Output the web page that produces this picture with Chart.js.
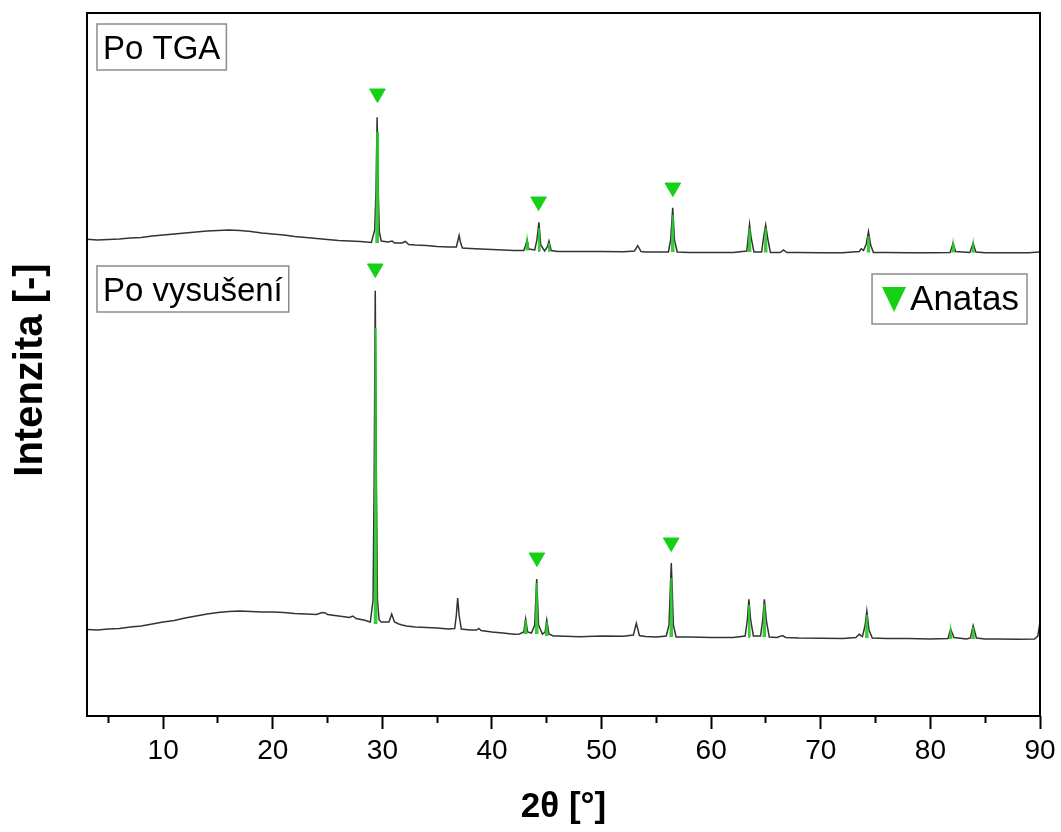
<!DOCTYPE html>
<html>
<head>
<meta charset="utf-8">
<script src="https://cdn.jsdelivr.net/npm/chart.js@4.4.1/dist/chart.umd.min.js"></script>
<style>
  html, body { margin: 0; padding: 0; background: #ffffff; }
  #wrap { width: 1061px; height: 832px; position: relative; }
</style>
</head>
<body>
<div id="wrap"><canvas id="c"></canvas></div>
<script>
// ---------------- DATA ----------------
// Bottom pattern: "Po vysušení"
const twoThetaDried = [3.05,4,5,6,7,8,9,10,11,12,13,14,15,16,17,18,19,20,21,22,23,24,24.5,24.8,25,26,27,27.3,27.6,28.3,28.9,
  29.15,29.25,29.35,29.45,29.55,29.7,29.9,30.6,30.85,31.1,31.5,31.8,32.2,33,34,35,36,36.6,36.75,36.87,37.0,37.2,38,38.6,38.8,39,
  40,41,42,42.5,42.9,43.07,43.25,43.6,43.9,44.08,44.25,44.6,44.85,45.0,45.2,45.6,46,48,50,52,52.9,53.17,53.45,54,55,55.9,56.15,
  56.36,56.55,56.8,58,60,62,63.1,63.3,63.44,63.6,63.85,64.5,64.7,64.85,65.05,65.3,66,66.5,66.8,68,70,72,73.2,73.5,73.8,74.05,
  74.2,74.4,74.7,76,78,80,81.6,81.85,82.15,83.3,83.65,83.9,84.2,85,86,88,89.5,89.8,90];
const intensityDried = [865,860,870,875,890,900,920,940,955,980,1000,1020,1035,1045,1050,1045,1040,1040,1035,1025,1020,1015,1035,1030,1015,1000,985,1000,975,960,940,
  1160,2360,4253,2360,1160,960,940,940,1020,940,920,910,900,890,885,880,870,875,1010,1180,1010,870,860,860,875,855,
  840,830,817,820,840,970,840,830,910,1370,910,820,840,960,820,800,800,793,800,797,810,927,805,795,790,800,910,
  1530,910,790,790,785,785,800,960,1167,960,800,800,960,1167,940,790,785,805,785,780,777,775,785,817,795,910,
  1050,860,780,775,775,770,775,867,785,770,780,903,780,770,770,767,770,800,940];

// Top pattern: "Po TGA" (raw values, shifted up by TGA_OFFSET for display)
const TGA_OFFSET = 3900;
const twoThetaTGA = [3.05,4,5,6,7,8,9,10,11,12,13,14,15,16,17,18,19,20,21,22,23,24,25,26,27,28,29.0,
  29.3,29.42,29.52,29.62,29.72,29.9,30.5,30.9,31.1,31.8,32.1,32.4,33,34,35,36,36.75,36.9,37.0,37.12,37.3,38,39,40,41,42,42.9,
  43.05,43.2,43.35,43.9,44.1,44.28,44.45,44.8,45.05,45.2,45.4,46,48,50,52,53.0,53.3,53.6,54,55,56.1,56.3,56.49,56.65,56.9,
  58,60,62,63.25,63.4,63.5,63.65,63.9,64.6,64.8,64.97,65.15,65.4,66.3,66.6,66.9,68,70,72,73.5,73.7,73.9,74.15,74.35,74.55,
  74.8,76,78,80,81.8,82.07,82.3,83.6,83.9,84.15,85,87,89,89.9,90];
const intensityTGA = [867,860,865,870,880,885,900,910,920,930,940,950,955,960,955,945,930,920,910,895,885,875,865,855,850,845,835,
  960,1360,2087,1360,940,850,840,850,830,830,845,815,810,805,795,790,790,860,905,840,780,775,770,765,760,755,755,
  800,860,770,760,860,1037,810,750,790,850,755,745,745,745,743,750,803,745,740,740,740,860,1183,860,740,
  735,735,735,750,910,1017,880,740,740,900,1010,880,735,735,760,735,735,733,733,745,773,755,820,943,810,
  735,735,732,732,735,827,745,735,827,740,733,733,733,740,760];

// Green anatase reference peaks (position, top, base)
const fitDriedPos  = [29.38,43.07,44.08,45.0,56.36,63.44,64.85,74.2,81.85,83.9];
const fitDriedTop  = [3880,960,1330,940,1380,1110,1120,1010,850,890];
const fitDriedBase = [920,820,820,800,790,790,790,780,770,770];
const fitTGAPos  = [29.52,43.2,44.28,45.2,56.49,63.5,64.97,74.35,82.07,83.9];
const fitTGATop  = [1940,840,980,830,1110,980,980,900,810,810];
const fitTGABase = [830,755,750,750,740,740,735,735,735,735];

// Anatase markers (▼)
const markerDriedX = [29.35,44.1,56.35];
const markerDriedY = [4475,1585,1735];
const markerTGAX = [29.55,44.25,56.5];
const markerTGAY = [2325,1245,1385];

// Axis
const xMajorTicks = [10,20,30,40,50,60,70,80,90];
const xMinorTicks = [5,15,25,35,45,55,65,75,85];
const xMin = 3.05, xMax = 90;
const yMin = 0, yMax = 7030;
const seriesLabels = ['Po TGA', 'Po vysušení'];
const legendLabel = 'Anatas';
const xTitle = '2θ [°]';
const yTitle = 'Intenzita [-] ';

// ---------------- BUILD ----------------
const FONT = "'Liberation Sans', Arial, Helvetica, sans-serif";
const GREEN = 'rgb(22,208,22)';
const GREEN_LINE = 'rgba(40,200,40,0.92)';
const GRAY = '#333333';

function pts(xs, ys, off) {
  return xs.map((x, i) => ({ x: x, y: ys[i] + (off || 0) }));
}
function fitPts(pos, top, base, off) {
  const out = [];
  pos.forEach((c, i) => {
    out.push({ x: c - 0.08, y: base[i] + off });
    out.push({ x: c, y: top[i] + off });
    out.push({ x: c + 0.08, y: base[i] + off });
    out.push({ x: c + 0.09, y: null });
  });
  return out;
}

const annotate = {
  id: 'annotate',
  afterDatasetsDraw(chart) {
    const ctx = chart.ctx;
    const a = chart.chartArea;
    ctx.save();
    // label boxes
    ctx.font = '33px ' + FONT;
    ctx.textBaseline = 'alphabetic';
    ctx.textAlign = 'left';
    const boxes = [
      { text: seriesLabels[0], x: a.left + 10, y: a.top + 11 },
      { text: seriesLabels[1], x: a.left + 10, y: a.top + 253 }
    ];
    boxes.forEach(b => {
      const w = ctx.measureText(b.text).width + 12;
      ctx.fillStyle = '#ffffff';
      ctx.fillRect(b.x, b.y, w, 46);
      ctx.strokeStyle = '#8c8c8c';
      ctx.lineWidth = 1.5;
      ctx.strokeRect(b.x, b.y, w, 46);
      ctx.fillStyle = '#000000';
      ctx.fillText(b.text, b.x + 6, b.y + 35);
    });
    // legend
    ctx.font = '35px ' + FONT;
    const tw = ctx.measureText(legendLabel).width;
    const lw = tw + 46;
    const lx = a.right - 13 - lw, ly = a.top + 261;
    ctx.fillStyle = '#ffffff';
    ctx.fillRect(lx, ly, lw, 50);
    ctx.strokeStyle = '#8c8c8c';
    ctx.lineWidth = 1.5;
    ctx.strokeRect(lx, ly, lw, 50);
    ctx.fillStyle = GREEN;
    ctx.beginPath();
    ctx.moveTo(lx + 10, ly + 13);
    ctx.lineTo(lx + 34, ly + 13);
    ctx.lineTo(lx + 22, ly + 38);
    ctx.closePath();
    ctx.fill();
    ctx.fillStyle = '#000000';
    ctx.fillText(legendLabel, lx + 38, ly + 36);
    // frame
    ctx.strokeStyle = '#000000';
    ctx.lineWidth = 2;
    ctx.strokeRect(a.left, a.top, a.right - a.left, a.bottom - a.top);
    ctx.restore();
  }
};

new Chart(document.getElementById('c'), {
  type: 'scatter',
  data: {
    datasets: [
      { label: 'Anatas ▼ Po TGA', data: pts(markerTGAX, markerTGAY, TGA_OFFSET), pointStyle: 'triangle', rotation: 180,
        pointRadius: 9, backgroundColor: GREEN, borderColor: GREEN, borderWidth: 1, showLine: false, order: 0 },
      { label: 'Anatas ▼ Po vysušení', data: pts(markerDriedX, markerDriedY, 0), pointStyle: 'triangle', rotation: 180,
        pointRadius: 9, backgroundColor: GREEN, borderColor: GREEN, borderWidth: 1, showLine: false, order: 0 },
      { label: 'Anatas fit Po TGA', data: fitPts(fitTGAPos, fitTGATop, fitTGABase, TGA_OFFSET), showLine: true, spanGaps: false,
        borderColor: GREEN_LINE, borderWidth: 2, pointRadius: 0, order: 1 },
      { label: 'Anatas fit Po vysušení', data: fitPts(fitDriedPos, fitDriedTop, fitDriedBase, 0), showLine: true, spanGaps: false,
        borderColor: GREEN_LINE, borderWidth: 2, pointRadius: 0, order: 1 },
      { label: seriesLabels[0], data: pts(twoThetaTGA, intensityTGA, TGA_OFFSET), showLine: true,
        borderColor: GRAY, borderWidth: 1.5, pointRadius: 0, order: 2 },
      { label: seriesLabels[1], data: pts(twoThetaDried, intensityDried, 0), showLine: true,
        borderColor: GRAY, borderWidth: 1.5, pointRadius: 0, order: 2 }
    ]
  },
  options: {
    responsive: true,
    maintainAspectRatio: false,
    animation: false,
    layout: { padding: { top: 13, right: 21, left: 0, bottom: 0 } },
    plugins: { legend: { display: false }, tooltip: { enabled: false } },
    scales: {
      x: {
        type: 'linear', position: 'bottom', min: xMin, max: xMax, weight: 1,
        afterBuildTicks: s => { s.ticks = xMajorTicks.map(v => ({ value: v })); },
        afterFit: s => { s.height = 116; },
        grid: { display: true, drawOnChartArea: false, drawTicks: true, tickLength: 13, tickWidth: 2, color: '#000' },
        border: { display: false },
        ticks: { color: '#000', padding: 5, font: { family: FONT, size: 28 }, maxRotation: 0, autoSkip: false },
        title: { display: true, text: xTitle, color: '#000', padding: { top: 0, bottom: 4 },
                 font: { family: FONT, size: 35, weight: 'bold' } }
      },
      xMinor: {
        type: 'linear', position: 'bottom', min: xMin, max: xMax, weight: 0,
        afterBuildTicks: s => { s.ticks = xMinorTicks.map(v => ({ value: v })); },
        afterFit: s => { s.height = 0; },
        grid: { display: true, drawOnChartArea: false, drawTicks: true, tickLength: 7, tickWidth: 2, color: '#000' },
        border: { display: false },
        ticks: { display: false }
      },
      y: {
        type: 'linear', position: 'left', min: yMin, max: yMax,
        afterFit: s => { s.width = 87; },
        grid: { display: false },
        border: { display: false },
        ticks: { display: false },
        title: { display: true, text: yTitle, color: '#000', padding: { top: 7, bottom: 0 },
                 font: { family: FONT, size: 40, weight: 'bold' } }
      }
    }
  },
  plugins: [annotate]
});
</script>
</body>
</html>
